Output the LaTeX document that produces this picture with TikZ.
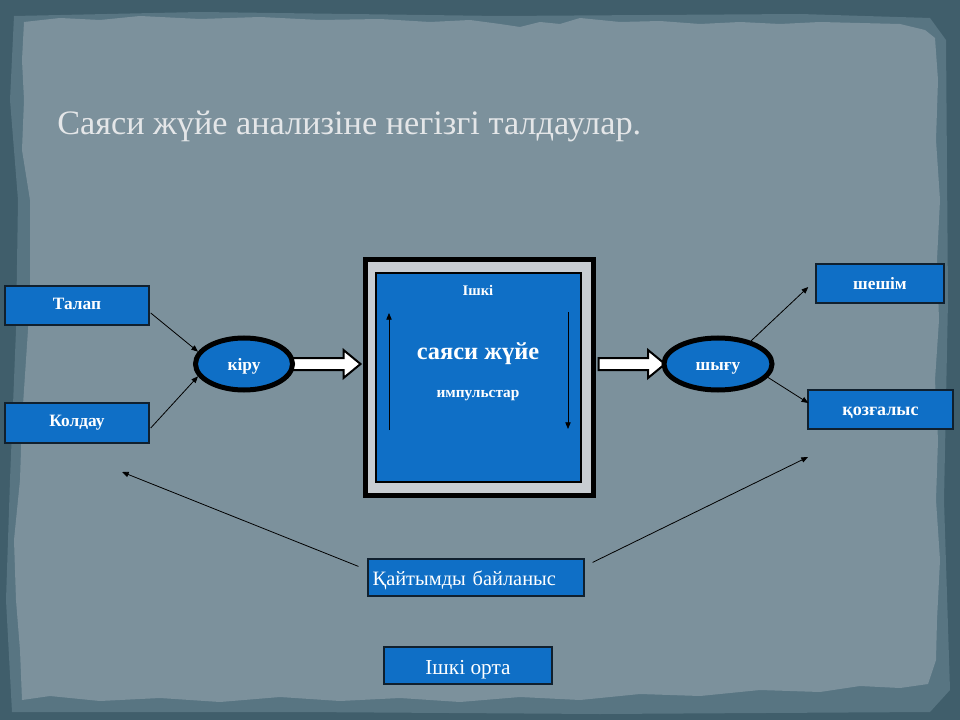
\documentclass[tikz,border=0pt]{standalone}
\usepackage{fontspec}
\setmainfont{Liberation Serif}
\usetikzlibrary{shapes.geometric,arrows.meta,calc}
\definecolor{frame}{HTML}{405E6B}
\definecolor{midband}{HTML}{587582}
\definecolor{paper}{HTML}{7C919C}
\definecolor{boxblue}{HTML}{0F6FC6}
\definecolor{boxgray}{HTML}{C8CDD2}
\definecolor{titlegray}{HTML}{E4E6E8}
\definecolor{edge}{HTML}{10202E}
\begin{document}
\begin{tikzpicture}[x=0.75pt,y=-0.75pt,
  bluebox/.style={rectangle, draw=edge, line width=1.1pt, fill=boxblue, text=white,
    font=\bfseries\fontsize{13}{15}\selectfont, inner sep=0pt, text height=1.6ex, text depth=0.3ex},
  plainbox/.style={rectangle, draw=edge, line width=0.9pt, fill=boxblue, text=white,
    inner sep=0pt, text height=2.9ex, text depth=0.3ex},
  oval/.style={ellipse, draw=black, line width=3.75pt, fill=boxblue, text=white,
    font=\bfseries\fontsize{13}{15}\selectfont, inner sep=0pt, minimum height=39pt,
    text height=2.5ex, text depth=0.3ex},
  thinarrow/.style={-{Triangle[length=5pt,width=4pt]}, line width=0.6pt, black},
  fatarrow/.style={draw=black, line width=1.5pt, fill=white, line join=miter},
  innertext/.style={text=white, inner sep=0pt}
]
\useasboundingbox (0,0) rectangle (960,720);
% background
\fill[frame] (0,0) rectangle (960,720);
\fill[midband] (14,16) -- (200,12) -- (500,16) -- (800,14) -- (930,18) -- (946,40) -- (948,300) -- (944,500) -- (950,690) -- (930,712) -- (600,714) -- (300,712) -- (12,712) -- (6,600) -- (10,480) -- (16,330) -- (18,200) -- (10,100) -- cycle;
\fill[paper] (24,22) -- (60,18) -- (100,20) -- (140,16) -- (200,19) -- (260,17) -- (320,20) -- (380,19) -- (430,22) -- (470,20) -- (500,24) -- (520,27) -- (540,22) -- (560,24) -- (580,18) -- (620,22) -- (660,21) -- (700,24) -- (740,22) -- (780,24) -- (820,22) -- (860,23) -- (900,24) -- (925,30) -- (935,38)
 -- (938,80) -- (936,140) -- (940,200) -- (937,260) -- (939,320) -- (935,380) -- (938,440) -- (936,500) -- (940,560) -- (937,620) -- (936,660) -- (928,684)
 -- (900,688) -- (860,686) -- (820,692) -- (760,690) -- (700,696) -- (640,694) -- (580,700) -- (520,697) -- (460,702) -- (400,698) -- (340,701) -- (280,697) -- (220,702) -- (160,698) -- (100,701) -- (50,696) -- (22,700)
 -- (20,650) -- (16,600) -- (14,540) -- (20,480) -- (22,420) -- (26,360) -- (30,300) -- (30,250) -- (30,200) -- (22,150) -- (24,100) -- (22,60) -- cycle;

% title
\node[anchor=base west, text=titlegray, font=\fontsize{25.7}{30}\selectfont, inner sep=0pt] (title) at (57,135)
  {Саяси жүйе анализіне негізгі талдаулар.};

% central system box
\node[rectangle, draw=black, line width=3.75pt, fill=boxgray, minimum width=171pt, minimum height=177pt, inner sep=0pt] (sys) at (479.5,377.5) {};
\node[rectangle, draw=black, line width=0.8pt, fill=boxblue, minimum width=153.75pt, minimum height=156.75pt, inner sep=0pt] (inner) at (478.5,377.5) {};
\node[innertext, font=\bfseries\fontsize{11}{13}\selectfont] (ishki) at (478,290) {Ішкі};
\node[innertext, font=\bfseries\fontsize{18.3}{21}\selectfont] (sayasi) at (478,354) {саяси жүйе};
\node[innertext, font=\bfseries\fontsize{11.5}{13}\selectfont] (impuls) at (478,396) {импульстар};
\coordinate (upA) at (389,430);
\coordinate (upB) at (389,313);
\coordinate (dnA) at (568,312);
\coordinate (dnB) at (568,429);
\draw[thinarrow] (upA) -- (upB);
\draw[thinarrow] (dnA) -- (dnB);

% fat arrows (drawn before ovals)
\coordinate (kiruC) at (244,364);
\coordinate (shiguC) at (718,364);
\draw[fatarrow] let \p1=($(kiruC)+(46,0)$), \p2=($(sys.west)+(-2.5,0)$) in
  (\x1,\y1+4.5pt) -- (\x2-12.75pt,\y1+4.5pt) -- (\x2-12.75pt,\y1+10.5pt) -- (\x2,\y1)
  -- (\x2-12.75pt,\y1-10.5pt) -- (\x2-12.75pt,\y1-4.5pt) -- (\x1,\y1-4.5pt) -- cycle;
\draw[fatarrow] let \p1=($(sys.east)+(2.5,0)$), \p2=($(shiguC)+(-53,0)$) in
  (\x1,\y2+4.5pt) -- (\x2-12.75pt,\y2+4.5pt) -- (\x2-12.75pt,\y2+10.5pt) -- (\x2,\y2)
  -- (\x2-12.75pt,\y2-10.5pt) -- (\x2-12.75pt,\y2-4.5pt) -- (\x1,\y2-4.5pt) -- cycle;

% ovals
\node[oval, minimum width=72.75pt] (kiru) at (kiruC) {кіру};
\node[oval, minimum width=81pt] (shigu) at (shiguC) {шығу};

% left boxes
\node[bluebox, minimum width=108pt, minimum height=29.25pt] (talap) at (77,305.5) {Талап};
\node[bluebox, minimum width=108pt, minimum height=30pt] (koldau) at (77,423) {Колдау};
% right boxes
\node[bluebox, text height=2.1ex, minimum width=96pt, minimum height=29.25pt] (sheshim) at (880,283.5) {шешім};
\node[bluebox, text height=2.1ex, minimum width=108.75pt, minimum height=29.25pt, font=\bfseries\fontsize{13.5}{15}\selectfont] (qozg) at (880.5,409.5) {қозғалыс};

% bottom boxes
\node[plainbox, font=\fontsize{15.3}{17}\selectfont, minimum width=162pt, minimum height=27.75pt, text width=155pt, align=left, inner xsep=3.5pt] (fb) at (476,577.5) {Қайтымды байланыс};
\node[plainbox, font=\fontsize{16}{18}\selectfont, text height=3.2ex, minimum width=126pt, minimum height=27.75pt] (orta) at (468,665.5) {Ішкі орта};

% thin connectors
\draw[thinarrow] ($(talap.east)+(1,7.5)$) -- (kiru.165);
\draw[thinarrow] ($(koldau.east)+(1,5)$) -- (kiru.195);
\draw[thinarrow] (shigu.35) -- ($(sheshim.west)+(-7,3.5)$);
\draw[thinarrow] (shigu.-15) -- ($(qozg.west)+(1,-6.5)$);
\coordinate (fbL) at (122,472);
\coordinate (fbR) at (808,457);
\draw[thinarrow] ($(fb.north west)+(-9,8)$) -- (fbL);
\draw[thinarrow] ($(fb.north east)+(8,4)$) -- (fbR);
\end{tikzpicture}
\end{document}
